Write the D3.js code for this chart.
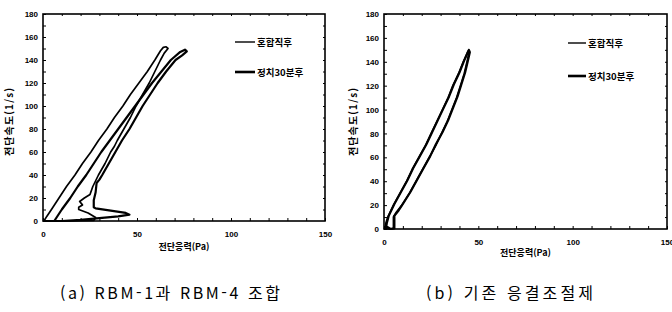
<!DOCTYPE html>
<html lang="ko">
<head>
<meta charset="utf-8">
<title>전단속도 - 전단응력</title>
<script src="https://d3js.org/d3.v7.min.js"></script>
<style>
  body { margin: 0; background: #fff; }
  svg { font-family: 'Liberation Sans', Arial, sans-serif; }
  .kr { font-family: 'Noto Sans CJK KR', sans-serif; }
  .tick text { font-size: 8px; fill: #000; font-weight: bold; }
  .tick line { stroke: #000; }
  .domain { stroke: none; }
</style>
</head>
<body>
<div id="chart"></div>
<script>

// tick labels
var xTicks = [0, 50, 100, 150];
var yTicks = [0, 20, 40, 60, 80, 100, 120, 140, 160, 180];
var seriesNames = ["혼합직후", "정치30분후"];
var captions = ["(a) RBM-1과 RBM-4 조합", "(b) 기존 응결조절제"];

// (a) 혼합직후 : [shear stress Pa, shear rate 1/s]
var a_mix = [
  [0,0],[14,0],[27,0.5],[28,3],[24,7],[19,10],[19,12],[21,14],[19.5,17],[22,20],[25,23],
  [26.5,30],[29.5,40],[33,50],[36,60],[38,65],[39.5,70],[43,80],[46.5,90],[49.5,100],
  [53,110],[56.5,120],[59.5,130],[62.5,140],[64.5,146],[66.5,150],[65.5,151.5],[64,151],
  [62.5,148],[59.5,140],[55.5,130],[51,120],[46.5,110],[42.5,100],[38,90],[34,80],[29.5,70],
  [25.5,60],[21,50],[17,40],[12.5,30],[8.5,20],[4.5,10],[2,4],[0.5,0]
];
// (a) 정치30분후
var a_rest = [
  [0,0],[10,0],[20,1],[30,2.5],[40,4],[46,5.5],[44,7],[36,9],[28,11],[27,12],[27,18],
  [28,25],[28.5,33],[30,36],[31.5,40],[35,50],[38.5,60],[42,70],[46,80],[49.5,90],[53,100],
  [57,110],[61,120],[65.5,130],[70.5,140],[74,144],[76.5,147.5],[75.5,149],[73,147],
  [68,140],[63,130],[58,120],[53.5,110],[49,100],[44.5,90],[40,80],[35.5,70],[31,60],
  [27,50],[23,40],[18.5,30],[14.5,20],[10,10],[6,0]
];
// (b) 혼합직후
var b_mix = [
  [0,0],[3,0],[5,0.5],[5,5],[5,10],[6.5,14],[9.5,20],[13.5,30],[17,40],[20.5,50],[24,60],
  [27.5,70],[30.5,80],[33.5,90],[36,100],[38.5,110],[40.5,120],[42.5,130],[44,140],[45,147],
  [44.5,149],[44,147],[42,140],[39.5,130],[36.5,120],[34,110],[31,100],[28,90],[25,80],
  [22,70],[18.5,60],[15,50],[12,40],[8.5,30],[5,20],[2,10],[1,5],[0.5,0]
];
// (b) 정치30분후
var b_rest = [
  [0,0],[2,1.5],[3.5,0],[5.5,0.5],[5.5,6],[5.5,11],[7.5,15],[10,21],[14,31],[17.5,41],
  [21,51],[24.5,61],[27.5,71],[31,81],[34,91],[36.5,101],[39,111],[41,121],[43,131],
  [44.5,141],[45.5,148],[45,150],[44.5,148],[42.5,141],[40,131],[37,121],[34.5,111],
  [31.5,101],[28.5,91],[25.5,81],[22.5,71],[19,61],[15.5,51],[12.5,41],[9,31],[5.5,21],
  [2.5,11],[1.5,5],[1,0]
];

var W = 672, H = 312;
var svg = d3.select("#chart").append("svg")
  .attr("width", W).attr("height", H);

var panels = [
  { left: 43, right: 325, top: 14, bottom: 221, data: [a_mix, a_rest],
    xTitleY: 250, yTitleX: 13, legX: 235, legLen: 20, legY: [42, 72], cap: captions[0], capX: 60, capW: 220 },
  { left: 384, right: 667, top: 14, bottom: 229, data: [b_mix, b_rest],
    xTitleY: 256, yTitleX: 357, legX: 568, legLen: 18, legY: [43, 76], cap: captions[1], capX: 426, capW: 167 }
];

var widths = [1.7, 2.2];

panels.forEach(function(p) {
  var x = d3.scaleLinear().domain([0, 150]).range([p.left, p.right]);
  var y = d3.scaleLinear().domain([0, 180]).range([p.bottom, p.top]);
  var g = svg.append("g");

  // frame
  g.append("rect")
    .attr("x", p.left).attr("y", p.top)
    .attr("width", p.right - p.left).attr("height", p.bottom - p.top)
    .attr("fill", "none").attr("stroke", "#000").attr("stroke-width", 1.6);

  // bottom axis, ticks inside
  g.append("g")
    .attr("transform", "translate(0," + p.bottom + ")")
    .call(d3.axisBottom(x).tickValues(d3.range(0, 151, 10)).tickSize(-3).tickPadding(10)
      .tickFormat(function(d) { return xTicks.indexOf(d) >= 0 ? d : ""; }));
  // top ticks
  g.append("g")
    .attr("transform", "translate(0," + p.top + ")")
    .call(d3.axisTop(x).tickValues(d3.range(10, 150, 10)).tickSize(-2).tickFormat(""));
  // left axis
  g.append("g")
    .attr("transform", "translate(" + p.left + ",0)")
    .call(d3.axisLeft(y).tickValues(d3.range(0, 181, 10)).tickSize(-3).tickPadding(5)
      .tickFormat(function(d) { return yTicks.indexOf(d) >= 0 ? d : ""; }));
  // right ticks
  g.append("g")
    .attr("transform", "translate(" + p.right + ",0)")
    .call(d3.axisRight(y).tickValues(d3.range(10, 180, 10)).tickSize(-2).tickFormat(""));

  // curves
  var line = d3.line().x(function(d) { return x(d[0]); }).y(function(d) { return y(d[1]); });
  p.data.forEach(function(s, i) {
    g.append("path")
      .datum(s)
      .attr("d", line)
      .attr("fill", "none")
      .attr("stroke", "#000")
      .attr("stroke-width", widths[i])
      .attr("stroke-linejoin", "round");
  });

  // legend
  seriesNames.forEach(function(name, i) {
    g.append("line")
      .attr("x1", p.legX).attr("x2", p.legX + p.legLen)
      .attr("y1", p.legY[i]).attr("y2", p.legY[i])
      .attr("stroke", "#000").attr("stroke-width", i === 0 ? 1.4 : 2.6);
    g.append("text")
      .attr("class", "kr")
      .attr("x", p.legX + p.legLen + 2).attr("y", p.legY[i] + 3.5)
      .attr("font-size", 9.5).attr("font-weight", "bold")
      .text(name);
  });

  // axis titles
  g.append("text")
    .attr("class", "kr")
    .attr("x", (p.left + p.right) / 2).attr("y", p.xTitleY)
    .attr("text-anchor", "middle").attr("font-size", 9).attr("font-weight", "bold")
    .text("전단응력(Pa)");
  g.append("text")
    .attr("class", "kr")
    .attr("transform", "translate(" + p.yTitleX + "," + 122 + ") rotate(-90)")
    .attr("text-anchor", "middle").attr("font-size", 10).attr("font-weight", "bold")
    .attr("textLength", 68).attr("lengthAdjust", "spacing")
    .text("전단속도(1/s)");

  // caption
  g.append("text")
    .attr("class", "kr")
    .attr("x", p.capX).attr("y", 299)
    .attr("font-size", 16)
    .attr("textLength", p.capW).attr("lengthAdjust", "spacing")
    .text(p.cap);
});

</script>
</body>
</html>
